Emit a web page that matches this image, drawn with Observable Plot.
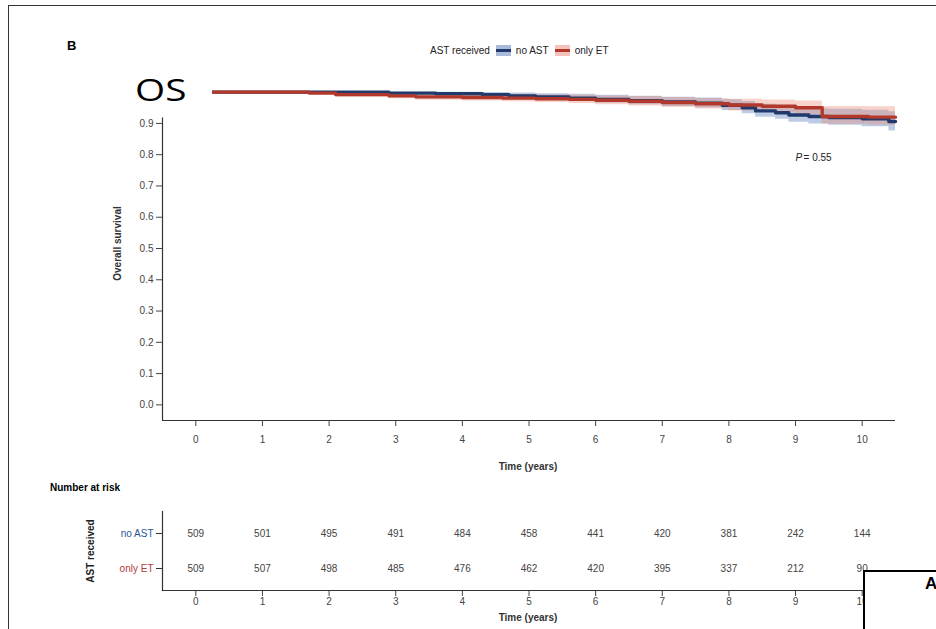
<!DOCTYPE html>
<html>
<head>
<meta charset="utf-8">
<script src="https://cdn.jsdelivr.net/npm/d3@7"></script>
<script src="https://cdn.jsdelivr.net/npm/@observablehq/plot@0.6"></script>
<style>
  html, body { margin: 0; padding: 0; background: #fff; }
  body { width: 936px; height: 629px; position: relative; overflow: hidden; font-family: "Liberation Sans", Arial, sans-serif; }
  .abs { position: absolute; }
  #frame { left: 8px; top: 5px; width: 940px; height: 640px; border-left: 1.5px solid #333; border-top: 1.5px solid #333; }
  #main, #table { position: absolute; left: 0; }
  #main { top: 0; }
  #table { top: 470px; }
  #legend { left: 430px; top: 45px; display: flex; align-items: center; font-size: 10px; color: #222; white-space: nowrap; }
  .sw { width: 15px; height: 11px; position: relative; margin: 0 5px 0 6px; }
  .sw i { position: absolute; left: 0; right: 0; top: 4px; height: 3px; }
  #os { left: 128px; top: 70px; width: 84px; height: 38px; background: #fff; }
  #os span { position: absolute; left: 7px; top: 0; font-family: "Open Sans", sans-serif; font-size: 31px; line-height: 38px; color: #000; transform: scaleX(1.25); transform-origin: left center; }
  #boxA { left: 863px; top: 570px; width: 100px; height: 100px; border: 2px solid #000; background: #fff; }
  #boxA span { position: absolute; left: 60px; top: 2px; font-weight: bold; font-size: 17px; }
</style>
</head>
<body>
<div id="frame" class="abs"></div>
<div id="main"></div>
<div id="table"></div>
<div class="abs" style="left:67px;top:38px;font-weight:bold;font-size:13px;">B</div>
<div id="legend" class="abs"></div>
<div id="os" class="abs"><span>OS</span></div>
<div class="abs" style="left:50px;top:482px;font-weight:bold;font-size:10px;">Number at risk</div>
<div id="boxA" class="abs"><span>A</span></div>
<script>
// ---- data ----
const groups = ["no AST", "only ET"];
const lineColors = ["#1f3a6b", "#b2382b"];
const bandColors = ["#5b7fbf", "#e8806b"];

// Kaplan-Meier step points (time in years, survival, CI)
const timeNoAST  = [0, 2.9, 3.6, 4.3, 4.7, 5.1, 5.6, 6.0, 6.5, 7.0, 7.5, 7.9, 8.2, 8.4, 8.7, 8.9, 9.2, 9.5, 10.0, 10.4, 10.5];
const survNoAST  = [1.000, 0.997, 0.995, 0.992, 0.988, 0.985, 0.981, 0.977, 0.973, 0.969, 0.965, 0.958, 0.950, 0.940, 0.934, 0.927, 0.922, 0.919, 0.915, 0.906, 0.906];
const lowerNoAST = [1.000, 0.992, 0.989, 0.985, 0.980, 0.975, 0.970, 0.965, 0.960, 0.954, 0.949, 0.941, 0.931, 0.920, 0.913, 0.904, 0.898, 0.894, 0.889, 0.876, 0.876];
const upperNoAST = [1.000, 1.000, 1.000, 0.999, 0.997, 0.995, 0.993, 0.990, 0.987, 0.984, 0.981, 0.976, 0.970, 0.961, 0.956, 0.951, 0.947, 0.945, 0.942, 0.937, 0.937];

const timeOnlyET  = [0, 1.7, 2.1, 2.9, 3.3, 4.0, 4.6, 5.1, 5.6, 6.0, 6.5, 7.0, 7.5, 8.0, 8.5, 9.0, 9.4, 10.1, 10.5];
const survOnlyET  = [1.000, 0.997, 0.992, 0.988, 0.985, 0.983, 0.981, 0.979, 0.977, 0.974, 0.971, 0.967, 0.963, 0.959, 0.955, 0.950, 0.922, 0.920, 0.920];
const lowerOnlyET = [1.000, 0.992, 0.984, 0.979, 0.974, 0.972, 0.969, 0.967, 0.964, 0.960, 0.956, 0.951, 0.946, 0.940, 0.935, 0.928, 0.897, 0.894, 0.894];
const upperOnlyET = [1.000, 1.000, 0.999, 0.997, 0.995, 0.994, 0.993, 0.992, 0.990, 0.988, 0.986, 0.983, 0.980, 0.977, 0.975, 0.972, 0.954, 0.953, 0.953];

const xTicks = [0, 1, 2, 3, 4, 5, 6, 7, 8, 9, 10];
const yTicks = [0, 0.1, 0.2, 0.3, 0.4, 0.5, 0.6, 0.7, 0.8, 0.9];
const pValue = "0.55";

// Number at risk
const riskTimes  = [0, 1, 2, 3, 4, 5, 6, 7, 8, 9, 10];
const riskNoAST  = [509, 501, 495, 491, 484, 458, 441, 420, 381, 242, 144];
const riskOnlyET = [509, 507, 498, 485, 476, 462, 420, 395, 337, 212, 90];

// ---- build tables ----
const mk = (g, T, S, L, U) => T.map((t, i) => ({group: g, t, s: S[i], lo: L[i], hi: U[i]}));
const km = [
  ...mk(groups[0], timeNoAST, survNoAST, lowerNoAST, upperNoAST),
  ...mk(groups[1], timeOnlyET, survOnlyET, lowerOnlyET, upperOnlyET)
];
const risk = [
  ...riskTimes.map((t, i) => ({group: groups[0], t, n: riskNoAST[i]})),
  ...riskTimes.map((t, i) => ({group: groups[1], t, n: riskOnlyET[i]}))
];
const axisCol = "#333";
const font = {fontFamily: "Liberation Sans, Arial, sans-serif", fontSize: "10px", background: "transparent", overflow: "visible"};

const main = Plot.plot({
  width: 936, height: 480,
  marginLeft: 162, marginRight: 41, marginTop: 76, marginBottom: 60,
  style: font,
  x: {domain: [-0.5, 10.5]},
  y: {domain: [-0.05, 1.05]},
  marks: [
    Plot.areaY(km.filter(d => d.group === groups[0]), {x: "t", y1: "lo", y2: "hi", curve: "step-after", fill: bandColors[0], fillOpacity: 0.4}),
    Plot.areaY(km.filter(d => d.group === groups[1]), {x: "t", y1: "lo", y2: "hi", curve: "step-after", fill: bandColors[1], fillOpacity: 0.35}),
    Plot.line(km.filter(d => d.group === groups[0]), {x: "t", y: "s", curve: "step-after", stroke: lineColors[0], strokeWidth: 3.4}),
    Plot.line(km.filter(d => d.group === groups[1]), {x: "t", y: "s", curve: "step-after", stroke: lineColors[1], strokeWidth: 3.4}),
    Plot.ruleY([-0.05], {stroke: axisCol, strokeWidth: 1.2}),
    Plot.ruleX([-0.5], {y1: -0.05, y2: 0.917, stroke: axisCol, strokeWidth: 1.2}),
    Plot.axisY(yTicks, {tickFormat: d3.format(".1f"), tickSize: 6, tickPadding: 3, color: "#444", label: null}),
    Plot.axisX(xTicks, {tickSize: 6, tickPadding: 9, color: "#444", label: null}),
    Plot.text(["Overall survival"], {frameAnchor: "left", textAnchor: "middle", rotate: -90, dx: -45, dy: -5, fontWeight: "bold", fill: "#333"}),
    Plot.text(["Time (years)"], {frameAnchor: "bottom", dy: 49, dx: -1, fontWeight: "bold", fill: "#333"}),
    Plot.text([{x: 9.0, y: 0.79}], {x: "x", y: "y", text: () => "P", fontStyle: "italic", textAnchor: "start", fill: "#222"}),
    Plot.text([{x: 9.0, y: 0.79}], {x: "x", y: "y", text: () => "= " + pValue, dx: 8, textAnchor: "start", fill: "#222"})
  ]
});
document.getElementById("main").appendChild(main);

const table = Plot.plot({
  width: 936, height: 159,
  marginLeft: 162, marginRight: 41, marginTop: 41, marginBottom: 39,
  style: font,
  x: {domain: [-0.5, 10.5]},
  y: {type: "point", domain: groups, padding: 0.6},
  marks: [
    Plot.text(risk, {x: "t", y: "group", text: "n", fill: "#444"}),
    Plot.axisY([groups[0]], {tickSize: 6, tickPadding: 3, color: axisCol, fill: "#2f5597", label: null}),
    Plot.axisY([groups[1]], {tickSize: 6, tickPadding: 3, color: axisCol, fill: "#b03a3a", label: null}),
    Plot.axisX(xTicks, {tickSize: 6, tickPadding: 1, color: "#444", label: null}),
    Plot.frame({anchor: "left", stroke: axisCol, strokeWidth: 1.2}),
    Plot.frame({anchor: "bottom", stroke: axisCol, strokeWidth: 1.2}),
    Plot.text(["AST received"], {frameAnchor: "left", textAnchor: "middle", rotate: -90, dx: -72, fontWeight: "bold", fill: "#222"}),
    Plot.text(["Time (years)"], {frameAnchor: "bottom", dy: 30, dx: -1, fontWeight: "bold", fill: "#333"})
  ]
});
document.getElementById("table").appendChild(table);

// legend
const leg = document.getElementById("legend");
const swFill = ["#a9bbdb", "#f3c2b8"];
leg.innerHTML = `<span>AST received</span>` + groups.map((g, i) =>
  `<span class="sw" style="background:${swFill[i]}"><i style="background:${lineColors[i]}"></i></span><span>${g}</span>`).join("");
</script>
</body>
</html>
